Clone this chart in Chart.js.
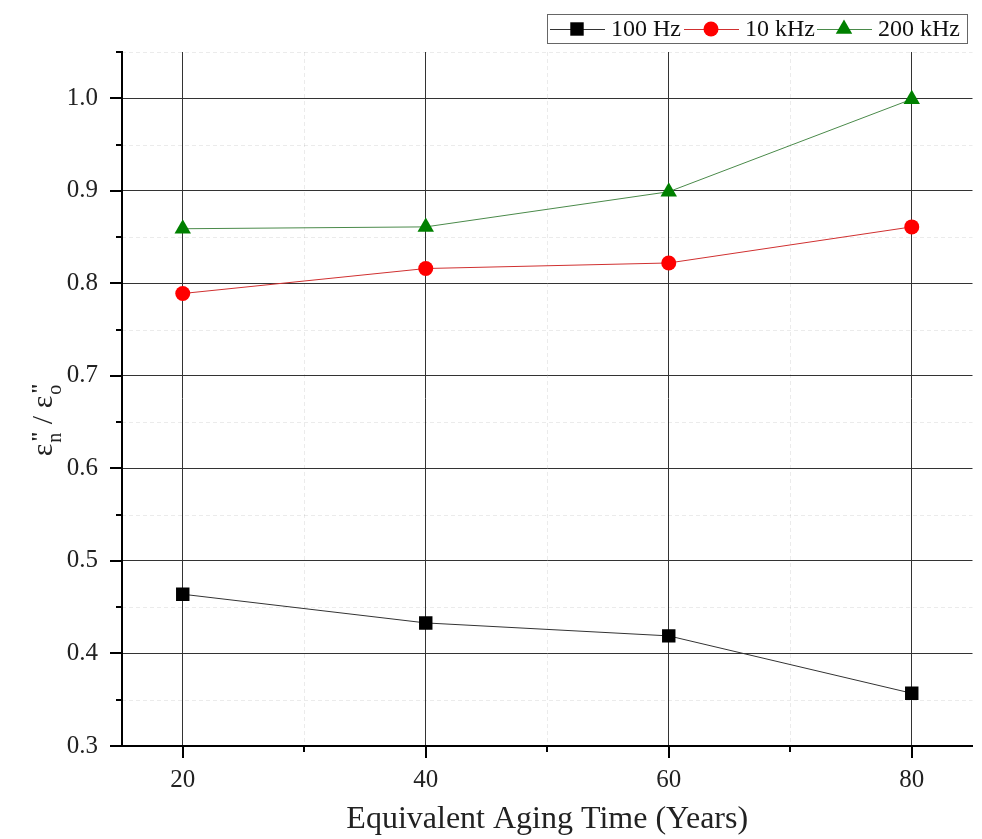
<!DOCTYPE html>
<html>
<head>
<meta charset="utf-8">
<script src="https://cdn.jsdelivr.net/npm/chart.js@4.4.1/dist/chart.umd.min.js"></script>
<style>
  html, body { margin: 0; padding: 0; background: #fff; }
  #wrap { width: 982px; height: 839px; position: relative; }
</style>
</head>
<body>
<div id="wrap"><canvas id="chart"></canvas></div>
<script>
const years = [20, 40, 60, 80];
const hz100 = [0.464, 0.433, 0.419, 0.357];
const khz10 = [0.789, 0.816, 0.822, 0.861];
const khz200 = [0.859, 0.861, 0.899, 0.999];
const seriesLabels = ['100 Hz', '10 kHz', '200 kHz'];
const xTitle = 'Equivalent Aging Time (Years)';

const serif = 'Liberation Serif';

function toPoints(vals) {
    return vals.map((v, i) => ({ x: years[i], y: v }));
}

function isMajorY(v) { return Math.round(v * 100) % 10 === 0; }
function isMajorX(v) { return Math.round(v) % 20 === 0; }

// minor grid (dashed, faint) + outward tick marks
const axisDecor = {
    id: 'axisDecor',
    beforeDatasetsDraw(chart) {
        const ctx = chart.ctx, a = chart.chartArea;
        const xs = chart.scales.x, ys = chart.scales.y;
        ctx.save();
        ctx.strokeStyle = 'rgba(0,0,0,0.08)';
        ctx.lineWidth = 1;
        ctx.setLineDash([4, 3]);
        ys.ticks.forEach(t => {
            if (isMajorY(t.value) || t.value <= 0.3) return;
            const y = Math.round(ys.getPixelForValue(t.value)) + 0.5;
            ctx.beginPath(); ctx.moveTo(a.left, y); ctx.lineTo(a.right, y); ctx.stroke();
        });
        xs.ticks.forEach(t => {
            if (isMajorX(t.value) || Math.round(t.value) % 10 !== 0) return;
            const x = Math.round(xs.getPixelForValue(t.value)) + 0.5;
            ctx.beginPath(); ctx.moveTo(x, a.top); ctx.lineTo(x, a.bottom); ctx.stroke();
        });
        ctx.restore();
    },
    afterDraw(chart) {
        const ctx = chart.ctx, a = chart.chartArea;
        const xs = chart.scales.x, ys = chart.scales.y;
        ctx.save();
        ctx.strokeStyle = '#000';
        ctx.lineWidth = 2;
        ys.ticks.forEach(t => {
            const y = Math.round(ys.getPixelForValue(t.value));
            const len = isMajorY(t.value) ? 12 : 6;
            ctx.beginPath(); ctx.moveTo(a.left - len, y); ctx.lineTo(a.left, y); ctx.stroke();
        });
        xs.ticks.forEach(t => {
            if (Math.round(t.value) % 10 !== 0) return;
            const x = Math.round(xs.getPixelForValue(t.value));
            const len = isMajorX(t.value) ? 12 : 6;
            ctx.beginPath(); ctx.moveTo(x, a.bottom); ctx.lineTo(x, a.bottom + len); ctx.stroke();
        });

        // y axis title: eps''_n / eps''_o
        ctx.translate(42, 420);
        ctx.rotate(-Math.PI / 2);
        ctx.fillStyle = '#222';
        ctx.textBaseline = 'alphabetic';
        const big = '30px "' + serif + '"';
        const sup = 'bold 22px "' + serif + '"';
        const sub = '20px "' + serif + '"';
        const parts = [['\u03b5', '"', 'n'], [' / '], ['\u03b5', '"', 'o']];
        let total = 0;
        const widths = parts.map(p => {
            ctx.font = big;
            let w = ctx.measureText(p[0]).width;
            if (p.length > 1) {
                ctx.font = sub;
                w += ctx.measureText(p[2]).width + 2;
            }
            total += w;
            return w;
        });
        let x = -total / 2;
        parts.forEach((p, i) => {
            ctx.font = big;
            ctx.fillText(p[0], x, 10);
            if (p.length > 1) {
                const bx = x + ctx.measureText(p[0]).width + 1;
                ctx.font = sup;
                ctx.fillText(p[1], bx, 4);
                ctx.font = sub;
                ctx.fillText(p[2], bx, 19);
            }
            x += widths[i];
        });
        ctx.restore();
    }
};

// boxed legend with line-through-marker samples
const boxLegend = {
    id: 'boxLegend',
    afterDraw(chart) {
        const ctx = chart.ctx;
        const starts = [550, 684, 817];
        ctx.save();
        ctx.strokeStyle = '#666';
        ctx.lineWidth = 1;
        ctx.strokeRect(547.5, 14.5, 420, 29);
        ctx.font = '24px "' + serif + '"';
        ctx.textBaseline = 'middle';
        chart.data.datasets.forEach((ds, i) => {
            const x0 = starts[i], y = 29;
            ctx.strokeStyle = ds.borderColor;
            ctx.lineWidth = 1;
            ctx.beginPath(); ctx.moveTo(x0, y + 0.5); ctx.lineTo(x0 + 55, y + 0.5); ctx.stroke();
            ctx.fillStyle = ds.pointBackgroundColor;
            ctx.strokeStyle = ds.pointBackgroundColor;
            Chart.helpers.drawPoint(ctx, {
                pointStyle: ds.pointStyle, radius: ds.pointRadius, rotation: 0, borderWidth: 0
            }, x0 + 27, y);
            ctx.fillStyle = '#111';
            ctx.fillText(ds.label, x0 + 61, y + 1);
        });
        ctx.restore();
    }
};

const ctx = document.getElementById('chart').getContext('2d');
new Chart(ctx, {
    type: 'line',
    data: {
        datasets: [
            {
                label: seriesLabels[0], data: toPoints(hz100),
                borderColor: '#333', borderWidth: 1, pointStyle: 'rect',
                pointRadius: 9.5, pointBackgroundColor: '#000', pointBorderWidth: 0
            },
            {
                label: seriesLabels[1], data: toPoints(khz10),
                borderColor: '#d03030', borderWidth: 1, pointStyle: 'circle',
                pointRadius: 7.5, pointBackgroundColor: '#ff0000', pointBorderWidth: 0
            },
            {
                label: seriesLabels[2], data: toPoints(khz200),
                borderColor: '#4a8a4a', borderWidth: 1, pointStyle: 'triangle',
                pointRadius: 9.5, pointBackgroundColor: '#008000', pointBorderWidth: 0
            }
        ]
    },
    options: {
        responsive: true,
        maintainAspectRatio: false,
        animation: false,
        layout: { padding: { top: 52, right: 7, left: 0, bottom: 0 } },
        plugins: {
            legend: { display: false },
            tooltip: { enabled: false }
        },
        elements: { line: { tension: 0 } },
        scales: {
            x: {
                type: 'linear',
                min: 15, max: 85,
                afterFit: s => { s.height = 93; },
                afterBuildTicks: s => {
                    s.ticks = [20, 30, 40, 50, 60, 70, 80].map(v => ({ value: v }));
                },
                border: { color: '#000', width: 2 },
                grid: {
                    drawTicks: false,
                    color: c => (c.tick && isMajorX(c.tick.value)) ? '#333' : 'rgba(0,0,0,0)',
                    lineWidth: 1
                },
                ticks: {
                    padding: 19,
                    color: '#222',
                    font: { family: serif, size: 25 },
                    callback: v => isMajorX(v) ? String(v) : ''
                },
                title: {
                    display: true, text: xTitle, color: '#222',
                    font: { family: serif, size: 32 },
                    padding: { top: 0, bottom: 0 }
                }
            },
            y: {
                min: 0.3, max: 1.05,
                afterFit: s => { s.width = 122; },
                afterBuildTicks: s => {
                    const t = [];
                    for (let i = 30; i <= 105; i += 5) t.push({ value: i / 100 });
                    s.ticks = t;
                },
                border: { color: '#000', width: 2 },
                grid: {
                    drawTicks: false,
                    color: c => (c.tick && isMajorY(c.tick.value) && c.tick.value > 0.3) ? '#333' : 'rgba(0,0,0,0)',
                    lineWidth: 1
                },
                ticks: {
                    padding: 24,
                    color: '#222',
                    font: { family: serif, size: 25 },
                    callback: v => isMajorY(v) ? v.toFixed(1) : ''
                }
            }
        }
    },
    plugins: [axisDecor, boxLegend]
});
</script>
</body>
</html>
